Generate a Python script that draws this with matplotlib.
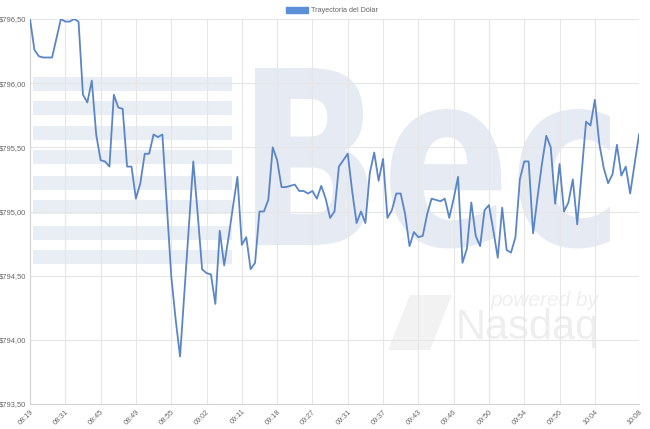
import matplotlib
matplotlib.use('Agg')
import matplotlib.pyplot as plt
from matplotlib.patches import Patch, Rectangle, Polygon, PathPatch
from matplotlib.textpath import TextPath
from matplotlib.font_manager import FontProperties
from matplotlib.transforms import Affine2D

# Dollar rate per quote (category axis, one value per point)
rate = [
    796.50, 796.26, 796.21, 796.20, 796.20, 796.20, 796.35, 796.50, 796.48, 796.48,
    796.50, 796.48, 795.91, 795.85, 796.02, 795.60, 795.40, 795.39, 795.35, 795.91,
    795.81, 795.80, 795.35, 795.35, 795.10, 795.22, 795.45, 795.45, 795.60, 795.58,
    795.60, 795.05, 794.50, 794.16, 793.87, 794.38, 794.88, 795.39, 794.98, 794.55,
    794.52, 794.51, 794.28, 794.85, 794.58, 794.80, 795.04, 795.27, 794.74, 794.80,
    794.55, 794.60, 795.00, 795.00, 795.09, 795.50, 795.40, 795.19, 795.19, 795.20,
    795.21, 795.16, 795.16, 795.14, 795.16, 795.10, 795.20, 795.10, 794.95, 795.00,
    795.35, 795.40, 795.45, 795.16, 794.91, 795.00, 794.91, 795.30, 795.46, 795.24,
    795.41, 794.95, 795.01, 795.14, 795.14, 794.98, 794.73, 794.84, 794.80, 794.81,
    794.98, 795.10, 795.09, 795.08, 795.10, 794.95, 795.10, 795.27, 794.60, 794.71,
    795.07, 794.81, 794.73, 795.01, 795.05, 794.85, 794.64, 795.03, 794.70, 794.68,
    794.80, 795.25, 795.39, 795.39, 794.83, 795.11, 795.37, 795.59, 795.50, 795.06,
    795.37, 795.00, 795.07, 795.25, 794.90, 795.30, 795.70, 795.67, 795.87, 795.53,
    795.34, 795.22, 795.29, 795.52, 795.28, 795.35, 795.14, 795.37, 795.60,
]

# Labels shown on the x axis (every 8th point, plus the last one)
tick_labels = ['08:19', '08:31', '08:45', '08:49', '08:55', '09:02', '09:11', '09:18',
               '09:27', '09:31', '09:37', '09:43', '09:46', '09:50', '09:54', '09:56',
               '10:04', '10:08']
y_ticks = [793.5, 794.0, 794.5, 795.0, 795.5, 796.0, 796.5]

n = len(rate)
tick_idx = list(range(0, n - 8, 8)) + [n - 1]

txt_font = 'Liberation Sans'
txt_color = '#666666'
wm = '#e6eaf2'

fig = plt.figure(figsize=(6.5, 4.29), dpi=100, facecolor='white')

# background watermark, drawn in pixel coordinates
bg = fig.add_axes([0, 0, 1, 1], zorder=0)
bg.set_xlim(0, 650)
bg.set_ylim(429, 0)
bg.axis('off')

for y0 in [77, 101, 126, 150, 176, 200, 226, 250]:
    bg.add_patch(Rectangle((33, y0), 199, 14, facecolor='#e9edf4', lw=0))

tp = TextPath((0, 0), 'Bec', size=1, prop=FontProperties(family='DejaVu Sans', weight='bold'))
ext = tp.get_extents()
sx = (610 - 255) / ext.width
sy = (245 - 68) / 0.729
tr = Affine2D().translate(-ext.x0, 0).scale(sx, -sy).translate(255, 245)
bg.add_patch(PathPatch(tr.transform_path(tp), facecolor=wm, lw=0))

bg.add_patch(Polygon([(388, 350), (410, 295), (452, 295), (430, 350)], closed=True,
                     facecolor='#f2f2f2', lw=0))
bg.text(545, 300, 'powered by', fontsize=15, color='#efefef', family=txt_font,
        ha='center', va='center', style='italic')
bg.text(527, 328, 'Nasdaq', fontsize=30, color='#eeeeee', family=txt_font,
        ha='center', va='center')

# main chart
ax = fig.add_axes([30 / 650, 1 - 404 / 429, 609 / 650, 385 / 429], zorder=1)
ax.set_facecolor('none')
ax.plot(range(n), rate, color='#5a86c8', lw=1.3, zorder=3)

ax.set_xlim(0, n - 1)
ax.set_ylim(793.5, 796.5)
ax.set_yticks(y_ticks)
ax.set_yticklabels([('$%.2f' % v).replace('.', ',') for v in y_ticks],
                   fontsize=5.4, color=txt_color, family=txt_font)
ax.set_xticks(tick_idx)
ax.set_xticklabels(tick_labels, rotation=45, ha='right', va='top', rotation_mode='anchor',
                   fontsize=5.2, color=txt_color, family=txt_font)
ax.tick_params(length=0, pad=3)
ax.grid(True, color='#e6e6e6', lw=0.8)
for s in ['top', 'right']:
    ax.spines[s].set_visible(False)
for s in ['left', 'bottom']:
    ax.spines[s].set_color('#d4d4d4')
    ax.spines[s].set_linewidth(0.8)

fig.legend(handles=[Patch(facecolor='#5b8fd8', edgecolor='#5b8fd8', label='Trayectoria del Dólar')],
           loc='center', bbox_to_anchor=(332 / 650, 1 - 10.5 / 429), frameon=False,
           prop={'family': txt_font, 'size': 5.2}, labelcolor=txt_color,
           handlelength=3.0, handleheight=1.0, handletextpad=0.4)

fig.savefig('out.png', dpi=100, facecolor='white')
